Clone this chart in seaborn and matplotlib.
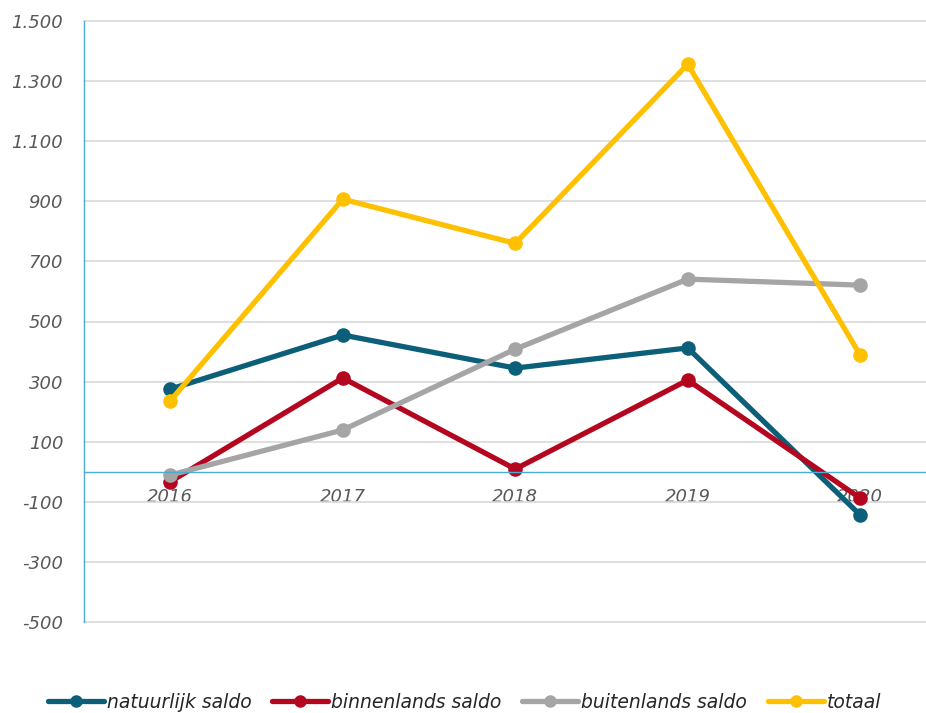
import numpy as np
import pandas as pd
import seaborn as sns
import matplotlib.pyplot as plt
from matplotlib.ticker import FuncFormatter

# Data
years = ['2016', '2017', '2018', '2019', '2020']
natuurlijk = [275, 455, 345, 412, -144]
binnenlands = [-33, 312, 9, 305, -88]
buitenlands = [-11, 139, 408, 641, 621]
totaal = [236, 907, 760, 1356, 388]

series = ['natuurlijk saldo', 'binnenlands saldo', 'buitenlands saldo', 'totaal']
colors = ['#0b5f78', '#b5061f', '#a5a5a5', '#ffc000']

df = pd.DataFrame({
    'jaar': years * 4,
    'saldo': natuurlijk + binnenlands + buitenlands + totaal,
    'reeks': np.repeat(series, len(years)),
})

sns.set_style('white')
plt.rcParams['font.family'] = ['DejaVu Sans']

fig = plt.figure(figsize=(9.26, 7.13), dpi=100)
ax = fig.add_axes([84 / 926, 91 / 713, 862.5 / 926, 601 / 713])

ax.set_axisbelow(True)
ax.yaxis.grid(True, color='#d9d9d9', lw=1.2)

sns.lineplot(data=df, x='jaar', y='saldo', hue='reeks', hue_order=series,
             palette=colors, marker='o', markersize=10.5, markeredgewidth=0,
             linewidth=3.8, sort=False, ax=ax)

ax.set_xlim(-0.5, 4.5)
ax.set_ylim(-500, 1500)
ax.set_yticks(np.arange(-500, 1501, 200))
ax.yaxis.set_major_formatter(FuncFormatter(lambda v, p: f'{int(v):,}'.replace(',', '.')))
ax.set_xlabel('')
ax.set_ylabel('')
for gl in ax.get_ygridlines():
    gl.set_clip_on(False)

for s in ['top', 'right']:
    ax.spines[s].set_visible(False)
ax.spines['left'].set_color('#4bacd6')
ax.spines['left'].set_linewidth(1)
ax.spines['bottom'].set_position(('data', 0))
ax.spines['bottom'].set_color('#4bacd6')
ax.spines['bottom'].set_linewidth(1)

ax.tick_params(axis='both', length=0, labelsize=13, labelcolor='#595959')
ax.tick_params(axis='y', pad=15)
ax.tick_params(axis='x', pad=12)
for lbl in ax.get_xticklabels() + ax.get_yticklabels():
    lbl.set_style('italic')

handles, labels = ax.get_legend_handles_labels()
for h in handles:
    h.set_markersize(9)
leg = ax.legend(handles, labels, loc='lower left', bbox_to_anchor=(40 / 926, -6 / 713),
                bbox_transform=fig.transFigure, ncol=4, frameon=False,
                prop={'style': 'italic', 'size': 13.5}, handlelength=3.0,
                handletextpad=0.15, columnspacing=1.1, borderaxespad=0)
for t in leg.get_texts():
    t.set_color('#262626')

fig.savefig('out.png', dpi=100)
